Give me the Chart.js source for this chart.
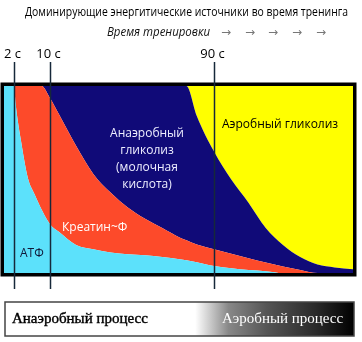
<!DOCTYPE html>
<html>
<head>
<meta charset="utf-8">
<script src="https://cdn.jsdelivr.net/npm/chart.js@4.4.1/dist/chart.umd.min.js"></script>
<style>
  html, body { margin: 0; padding: 0; background: #fff; }
  #energy { display: block; }
</style>
</head>
<body>
<canvas id="energy" width="362" height="342"></canvas>
<script>
(function () {
    "use strict";

    // Time axis (schematic units, 0..100 across the box)
    var timeSteps = [-0.9, 2, 2.5, 4, 6, 8, 10, 12.5, 15, 20, 25, 30, 35, 40, 45, 50, 52, 55, 60, 65, 70, 75, 80, 85, 90, 95, 100.3];

    // Share of each energy source, % (stacked bottom to top)
    var atpShare       = [100, 100, 90, 71, 51, 42, 34, 26, 22, 15, 12.7, 11, 10, 9.5, 8.5, 7.4, 6.8, 5.8, 3.7, 2.6, 1.6, 1.0, 0, 0, 0, 0, 0];
    var creatineShare  = [0, 0, 10, 29, 49, 58, 66, 67.4, 63, 53, 40.3, 32, 25, 19.5, 15.5, 11.6, 10.7, 9.5, 9, 7.7, 6.3, 4.6, 3.5, 1.6, 0, 0, 0];
    var anaerobicShare = [0, 0, 0, 0, 0, 0, 0, 6.6, 15, 32, 47, 57, 65, 71, 76, 81, 82.5, 68.7, 52.3, 39.7, 29.7, 18.4, 11.5, 6.9, 4.5, 3, 2];
    var aerobicShare   = [0, 0, 0, 0, 0, 0, 0, 0, 0, 0, 0, 0, 0, 0, 0, 0, 0, 16, 35, 50, 62.4, 76, 85, 91.5, 95.5, 97, 98];

    // Marked moments on the time axis
    var markPos    = [2.03, 12.46, 60];
    var markLabels = ["2 с", "10 с", "90 с"];

    function points(values) {
        return timeSteps.map(function (t, i) {
            return { x: t, y: values[i] };
        });
    }

    function area(label, values, color, fill) {
        return {
            label: label,
            data: points(values),
            backgroundColor: color,
            borderColor: color,
            borderWidth: 0,
            pointRadius: 0,
            fill: fill,
            cubicInterpolationMode: "monotone"
        };
    }

    // draw text squeezed or stretched to a given width
    function fitText(ctx, text, x, y, width) {
        var w = ctx.measureText(text).width;
        ctx.save();
        ctx.translate(x, y);
        ctx.scale(width / w, 1);
        ctx.fillText(text, 0, 0);
        ctx.restore();
    }

    // Texts, frame, marks and the process bar
    var decor = {
        id: "decor",
        afterDatasetsDraw: function (chart) {
            var ctx = chart.ctx;
            var a = chart.chartArea;
            var xs = chart.scales.x;

            ctx.save();

            // black frame round the plot
            ctx.strokeStyle = "#000";
            ctx.lineWidth = 3.5;
            ctx.strokeRect(a.left - 1.75, a.top - 1.75, a.right - a.left + 3.5, a.bottom - a.top + 3.5);

            // vertical time marks
            ctx.strokeStyle = "#16283a";
            ctx.lineWidth = 1.5;
            ctx.fillStyle = "#000";
            ctx.font = "13px 'Open Sans'";
            ctx.textAlign = "center";
            ctx.textBaseline = "alphabetic";
            markPos.forEach(function (p, i) {
                var px = Math.round(xs.getPixelForValue(p)) + 0.5;
                ctx.beginPath();
                ctx.moveTo(px, 62);
                ctx.lineTo(px, 289);
                ctx.stroke();
                ctx.fillText(markLabels[i], px - 2, 58);
            });

            // area labels
            ctx.font = "12px 'Open Sans'";
            ctx.fillStyle = "#eeeeff";
            ["Анаэробный", "гликолиз", "(молочная", "кислота)"].forEach(function (s, i) {
                ctx.fillText(s, 147, 137 + i * 17);
            });
            ctx.fillStyle = "#000";
            ctx.textAlign = "left";
            ctx.fillText("Аэробный гликолиз", 222, 128);
            ctx.fillStyle = "#fff";
            ctx.fillText("Креатин~Ф", 62, 231);
            ctx.fillStyle = "#101838";
            ctx.fillText("АТФ", 20, 257);

            // heading
            ctx.font = "13px 'Open Sans'";
            ctx.fillStyle = "#000";
            fitText(ctx, "Доминирующие энергитические источники во время тренинга", 25, 16, 323);

            ctx.font = "italic 12px 'Open Sans'";
            ctx.fillStyle = "#111";
            fitText(ctx, "Время тренировки", 107, 36, 103);
            ctx.font = "12px 'DejaVu Sans'";
            ctx.fillStyle = "#777";
            ctx.textAlign = "center";
            [226, 250, 273, 297, 321].forEach(function (x) {
                ctx.fillText("→", x, 36);
            });

            // process bar
            var g = ctx.createLinearGradient(5, 0, 354, 0);
            g.addColorStop(0, "#fff");
            g.addColorStop(0.545, "#fff");
            g.addColorStop(0.6, "#bbb");
            g.addColorStop(0.64, "#888");
            g.addColorStop(0.75, "#555");
            g.addColorStop(0.89, "#2a2a2a");
            g.addColorStop(1, "#000");
            ctx.fillStyle = g;
            ctx.fillRect(5, 302, 349, 34);
            ctx.strokeStyle = "#444";
            ctx.lineWidth = 1.5;
            ctx.strokeRect(5, 302, 349, 34);

            ctx.font = "15px 'Liberation Serif'";
            ctx.textAlign = "left";
            ctx.lineWidth = 0.4;
            ctx.fillStyle = "#000";
            ctx.strokeStyle = "#000";
            ctx.fillText("Анаэробный процесс", 12, 323);
            ctx.strokeText("Анаэробный процесс", 12, 323);
            ctx.fillStyle = "#fff";
            ctx.fillText("Аэробный процесс", 222, 323);

            ctx.restore();
        }
    };

    new Chart(document.getElementById("energy").getContext("2d"), {
        type: "line",
        data: {
            datasets: [
                area("АТФ", atpShare, "#5ce1fb", "origin"),
                area("Креатин~Ф", creatineShare, "#fd4a2a", "-1"),
                area("Анаэробный гликолиз", anaerobicShare, "#100a78", "-1"),
                area("Аэробный гликолиз", aerobicShare, "#ffff00", "-1")
            ]
        },
        options: {
            responsive: false,
            animation: false,
            devicePixelRatio: 1,
            layout: { padding: { left: 4, top: 86, right: 9, bottom: 69 } },
            scales: {
                x: { type: "linear", min: -0.9, max: 100.3, display: false },
                y: { stacked: true, min: 0, max: 100, display: false }
            },
            plugins: {
                legend: { display: false },
                tooltip: { enabled: false }
            }
        },
        plugins: [decor]
    });
})();
</script>
</body>
</html>
